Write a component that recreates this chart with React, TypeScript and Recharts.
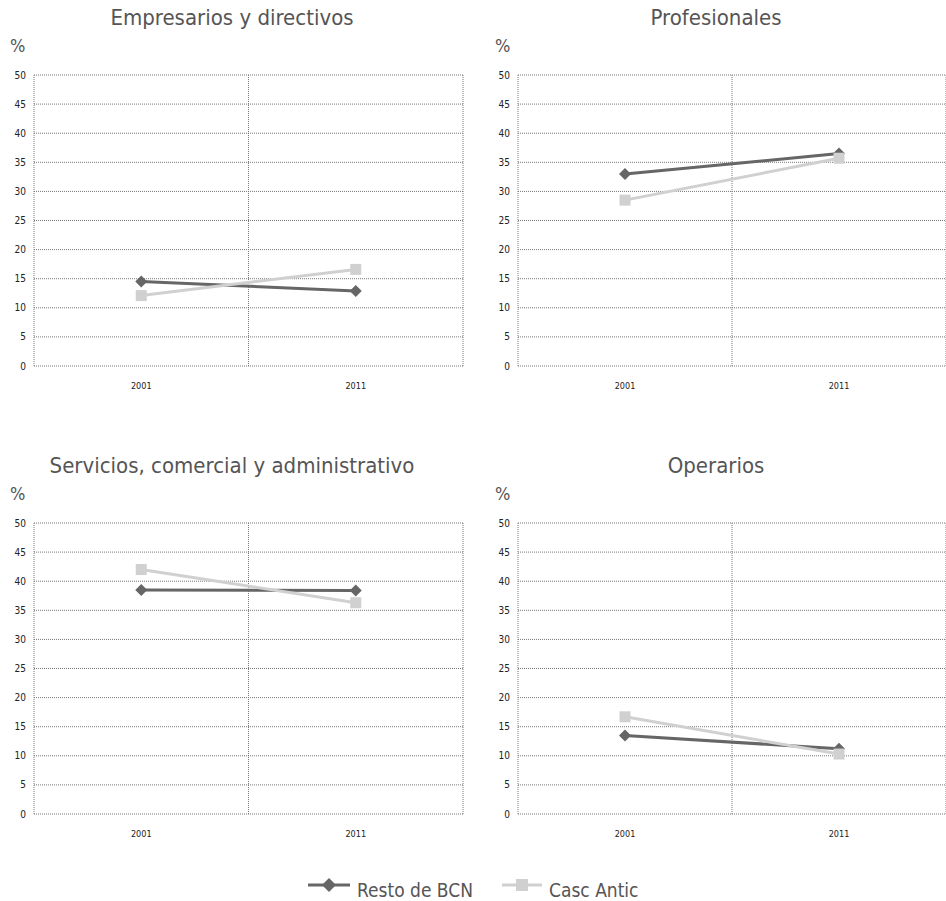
import React from 'react';
import { LineChart, Line, XAxis, YAxis, CartesianGrid } from 'recharts';

const years = ['2001', '2011'];
const yTicks = [0, 5, 10, 15, 20, 25, 30, 35, 40, 45, 50];

const titles = [
  'Empresarios y directivos',
  'Profesionales',
  'Servicios, comercial y administrativo',
  'Operarios',
];

const restoBCN = [
  [14.5, 12.9],
  [33.0, 36.5],
  [38.5, 38.4],
  [13.5, 11.2],
];
const cascAntic = [
  [12.1, 16.6],
  [28.5, 35.7],
  [42.0, 36.3],
  [16.7, 10.3],
];

const seriesNames = ['Resto de BCN', 'Casc Antic'];
const DARK = '#666666';
const LIGHT = '#d0d0d0';
const FONT = '"Liberation Sans Narrow", "DejaVu Sans Condensed", "Arial Narrow", sans-serif';

const Diamond = (props: any) => {
  const { cx, cy } = props;
  if (cx == null || cy == null) return null;
  const s = 6;
  return <path d={`M${cx},${cy - s}L${cx + s},${cy}L${cx},${cy + s}L${cx - s},${cy}Z`} fill={DARK} />;
};
const Square = (props: any) => {
  const { cx, cy } = props;
  if (cx == null || cy == null) return null;
  const s = 5.5;
  return <rect x={cx - s} y={cy - s} width={2 * s} height={2 * s} fill={LIGHT} />;
};

const Panel = ({ idx, width, marginRight }: { idx: number; width: number; marginRight: number }) => {
  const data = years.map((y, i) => ({
    x: i + 0.5,
    year: y,
    resto: restoBCN[idx][i],
    casc: cascAntic[idx][i],
  }));
  return (
    <LineChart width={width} height={340} data={data} margin={{ top: 15, right: marginRight, bottom: 4, left: 0 }}>
      <XAxis xAxisId="grid" type="number" dataKey="x" domain={[0, 2]} ticks={[0, 1, 2]} hide />
      <CartesianGrid xAxisId="grid" stroke="#777" strokeDasharray="1 1" />
      <XAxis
        type="number"
        dataKey="x"
        domain={[0, 2]}
        ticks={[0.5, 1.5]}
        tickFormatter={(v: number) => years[Math.floor(v)]}
        height={30}
        tickLine={false}
        axisLine={false}
        tickMargin={11}
        tick={{ fontSize: 9, fill: '#222', fontFamily: FONT }}
      />
      <YAxis
        domain={[0, 50]}
        ticks={yTicks}
        width={34}
        tickLine={false}
        axisLine={false}
        tick={{ fontSize: 10, fill: '#222', fontFamily: FONT }}
      />
      <Line dataKey="resto" stroke={DARK} strokeWidth={3} dot={<Diamond />} isAnimationActive={false} />
      <Line dataKey="casc" stroke={LIGHT} strokeWidth={3} dot={<Square />} isAnimationActive={false} />
    </LineChart>
  );
};

export default function App() {
  const positions = [
    { left: 0, top: 60, width: 470, mr: 7 },
    { left: 484, top: 60, width: 462, mr: 0 },
    { left: 0, top: 508, width: 470, mr: 7 },
    { left: 484, top: 508, width: 462, mr: 0 },
  ];
  const titleX = [232, 716, 232, 716];
  const titleY = [25, 25, 473, 473];
  const pctX = [10, 495, 10, 495];
  const pctY = [52, 52, 500, 500];
  return (
    <div style={{ position: 'absolute', left: 0, top: 0, width: 946, height: 901, background: '#fff', overflow: 'hidden' }}>
      {positions.map((p, i) => (
        <div key={i} style={{ position: 'absolute', left: p.left, top: p.top }}>
          <Panel idx={i} width={p.width} marginRight={p.mr} />
        </div>
      ))}
      <svg width={946} height={901} style={{ position: 'absolute', left: 0, top: 0, pointerEvents: 'none' }}>
        {titles.map((t, i) => (
          <text key={'t' + i} x={titleX[i]} y={titleY[i]} textAnchor="middle" fontSize={22} fill="#555" fontFamily={FONT}>
            {t}
          </text>
        ))}
        {titles.map((_, i) => (
          <text key={'p' + i} x={pctX[i]} y={pctY[i]} fontSize={18} fill="#555" fontFamily={FONT}>
            %
          </text>
        ))}
        <g>
          <line x1={308} y1={885} x2={350} y2={885} stroke={DARK} strokeWidth={3} />
          <path d="M329,878L336,885L329,892L322,885Z" fill={DARK} />
          <text x={357} y={897} fontSize={19} fill="#555" fontFamily={FONT}>{seriesNames[0]}</text>
          <line x1={502} y1={885} x2={542} y2={885} stroke={LIGHT} strokeWidth={3} />
          <rect x={516} y={879} width={12} height={12} fill={LIGHT} />
          <text x={549} y={897} fontSize={19} fill="#555" fontFamily={FONT}>{seriesNames[1]}</text>
        </g>
      </svg>
    </div>
  );
}
